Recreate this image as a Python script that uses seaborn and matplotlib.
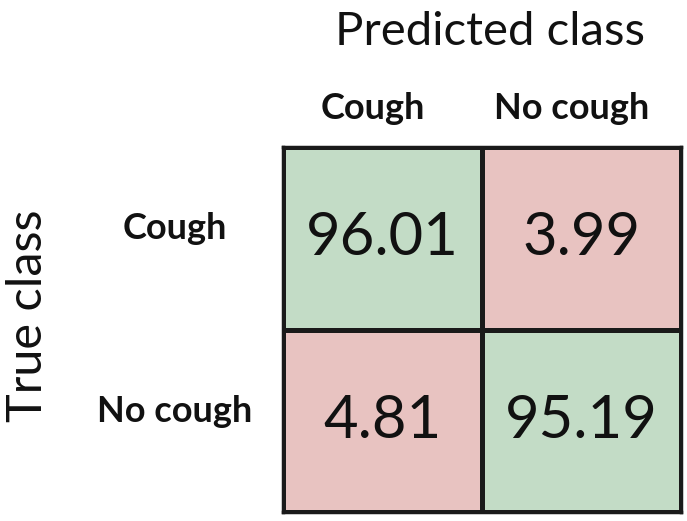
import matplotlib
matplotlib.use("Agg")
import matplotlib.pyplot as plt
import matplotlib.transforms as mtransforms
import seaborn as sns
import pandas as pd
from matplotlib.colors import ListedColormap

# confusion matrix values (percent)
classes = ["Cough", "No cough"]
row_cough = [96.01, 3.99]
row_no_cough = [4.81, 95.19]

df = pd.DataFrame([row_cough, row_no_cough], index=classes, columns=classes)

sns.set_theme(style="white")
plt.rcParams["font.family"] = ["Lato", "DejaVu Sans"]

fig = plt.figure(figsize=(6.87, 5.21), dpi=100)
ax = fig.add_axes([0.412, 0.0173, 0.579, 0.700])

# below 50 -> pink (misclassified), above 50 -> green (correct)
cmap = ListedColormap(["#e8c3c1", "#c3dcc6"])
sns.heatmap(df, ax=ax, cmap=cmap, vmin=0, vmax=100, cbar=False,
            annot=True, fmt=".2f", annot_kws={"fontsize": 43, "color": "#111111"},
            linewidths=2.5, linecolor="#1a1a1a")

for s in ax.spines.values():
    s.set_visible(True)
    s.set_linewidth(2.5)
    s.set_color("#1a1a1a")

ax.xaxis.tick_top()
ax.set_xticklabels(classes, fontsize=26, fontweight="bold", color="#111111")
ax.set_yticklabels(classes, fontsize=26, fontweight="bold", color="#111111",
                   rotation=0, ha="center")
ax.tick_params(axis="x", length=0, pad=16)
ax.tick_params(axis="y", length=0, pad=78)

# nudge labels a little, as in the original layout
dx = mtransforms.ScaledTranslation(-7 / 72, 0, fig.dpi_scale_trans)
dy = mtransforms.ScaledTranslation(0, 7 / 72, fig.dpi_scale_trans)
for lab in ax.get_xticklabels():
    lab.set_transform(lab.get_transform() + dx)
for lab in ax.get_yticklabels():
    lab.set_transform(lab.get_transform() + dy)

ax.set_xlabel("")
ax.set_ylabel("")
fig.text(0.713, 0.914, "Predicted class", fontsize=34, ha="center",
         va="baseline", color="#111111")
fig.text(0.041, 0.393, "True class", fontsize=35, ha="center", va="center",
         rotation=90, color="#111111")

fig.savefig("out.png", dpi=100)
